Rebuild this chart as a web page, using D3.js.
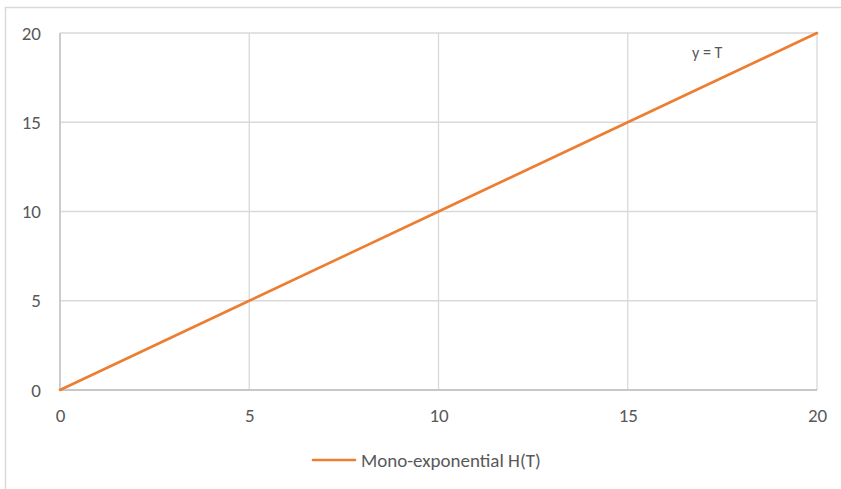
<!DOCTYPE html>
<html><head><meta charset="utf-8">
<script src="https://cdn.jsdelivr.net/npm/d3@7"></script>
<style>html,body{margin:0;padding:0;background:#fff;}svg{display:block;}</style>
</head><body>
<svg id="c" width="841" height="489"></svg>
<script>
const tValues = [0, 5, 10, 15, 20];
const hValues = [0, 5, 10, 15, 20];
const xTicks = [0, 5, 10, 15, 20];
const yTicks = [0, 5, 10, 15, 20];
const seriesName = "Mono-exponential H(T)";
const annotation = "y = T";

const svg = d3.select("#c");
const font = "Carlito, 'Open Sans', 'Liberation Sans', sans-serif";
const W = 841, H = 489;
const m = {left: 60, right: 817, top: 33, bottom: 390};
const x = d3.scaleLinear().domain([0, 20]).range([m.left, m.right]);
const y = d3.scaleLinear().domain([0, 20]).range([m.bottom, m.top]);

// outer chart border (cropped: only top and left visible)
svg.append("path").attr("d", `M5.5,${H} V7.5 H${W}`).attr("fill","none")
  .attr("stroke","#d9d9d9").attr("stroke-width",1.5);

// gridlines
const g = svg.append("g");
g.selectAll(".vg").data(xTicks).join("line")
  .attr("x1", d => x(d)).attr("x2", d => x(d)).attr("y1", m.top).attr("y2", m.bottom)
  .attr("stroke", "#d9d9d9").attr("stroke-width", 1.3);
g.selectAll(".hg").data(yTicks).join("line")
  .attr("y1", d => y(d)).attr("y2", d => y(d)).attr("x1", m.left).attr("x2", m.right)
  .attr("stroke", "#d9d9d9").attr("stroke-width", 1.3);
// axis lines
svg.append("line").attr("x1", m.left).attr("x2", m.right).attr("y1", y(0)).attr("y2", y(0))
  .attr("stroke", "#bfbfbf").attr("stroke-width", 1.3);
svg.append("line").attr("x1", x(0)).attr("x2", x(0)).attr("y1", m.top).attr("y2", m.bottom)
  .attr("stroke", "#bfbfbf").attr("stroke-width", 1.3);

// axes via d3
const xAxis = d3.axisBottom(x).tickValues(xTicks).tickSize(0).tickPadding(19);
const yAxis = d3.axisLeft(y).tickValues(yTicks).tickSize(0).tickPadding(19);
const xa = svg.append("g").attr("transform", `translate(0,${m.bottom})`).call(xAxis);
const ya = svg.append("g").attr("transform", `translate(${m.left},0)`).call(yAxis);
[xa, ya].forEach(a => {
  a.select(".domain").remove();
  a.selectAll("text").attr("font-family", font).attr("font-size", 19).attr("fill", "#595959");
});

// series line
const line = d3.line().x((d, i) => x(tValues[i])).y(d => y(d));
svg.append("path").datum(hValues).attr("d", line).attr("fill", "none")
  .attr("stroke", "#ED7D31").attr("stroke-width", 2.6).attr("stroke-linecap", "round");

// annotation
svg.append("text").attr("x", x(17.1)).attr("y", y(18.6)).attr("text-anchor", "middle")
  .attr("font-family", font).attr("font-size", 16).attr("fill", "#595959").text(annotation);

// legend
const lg = svg.append("g");
lg.append("line").attr("x1", 313).attr("x2", 355).attr("y1", 460).attr("y2", 460)
  .attr("stroke", "#ED7D31").attr("stroke-width", 2.6).attr("stroke-linecap", "round");
lg.append("text").attr("x", 361).attr("y", 467).attr("font-family", font).attr("font-size", 19)
  .attr("fill", "#595959").text(seriesName);
</script>
</body></html>
